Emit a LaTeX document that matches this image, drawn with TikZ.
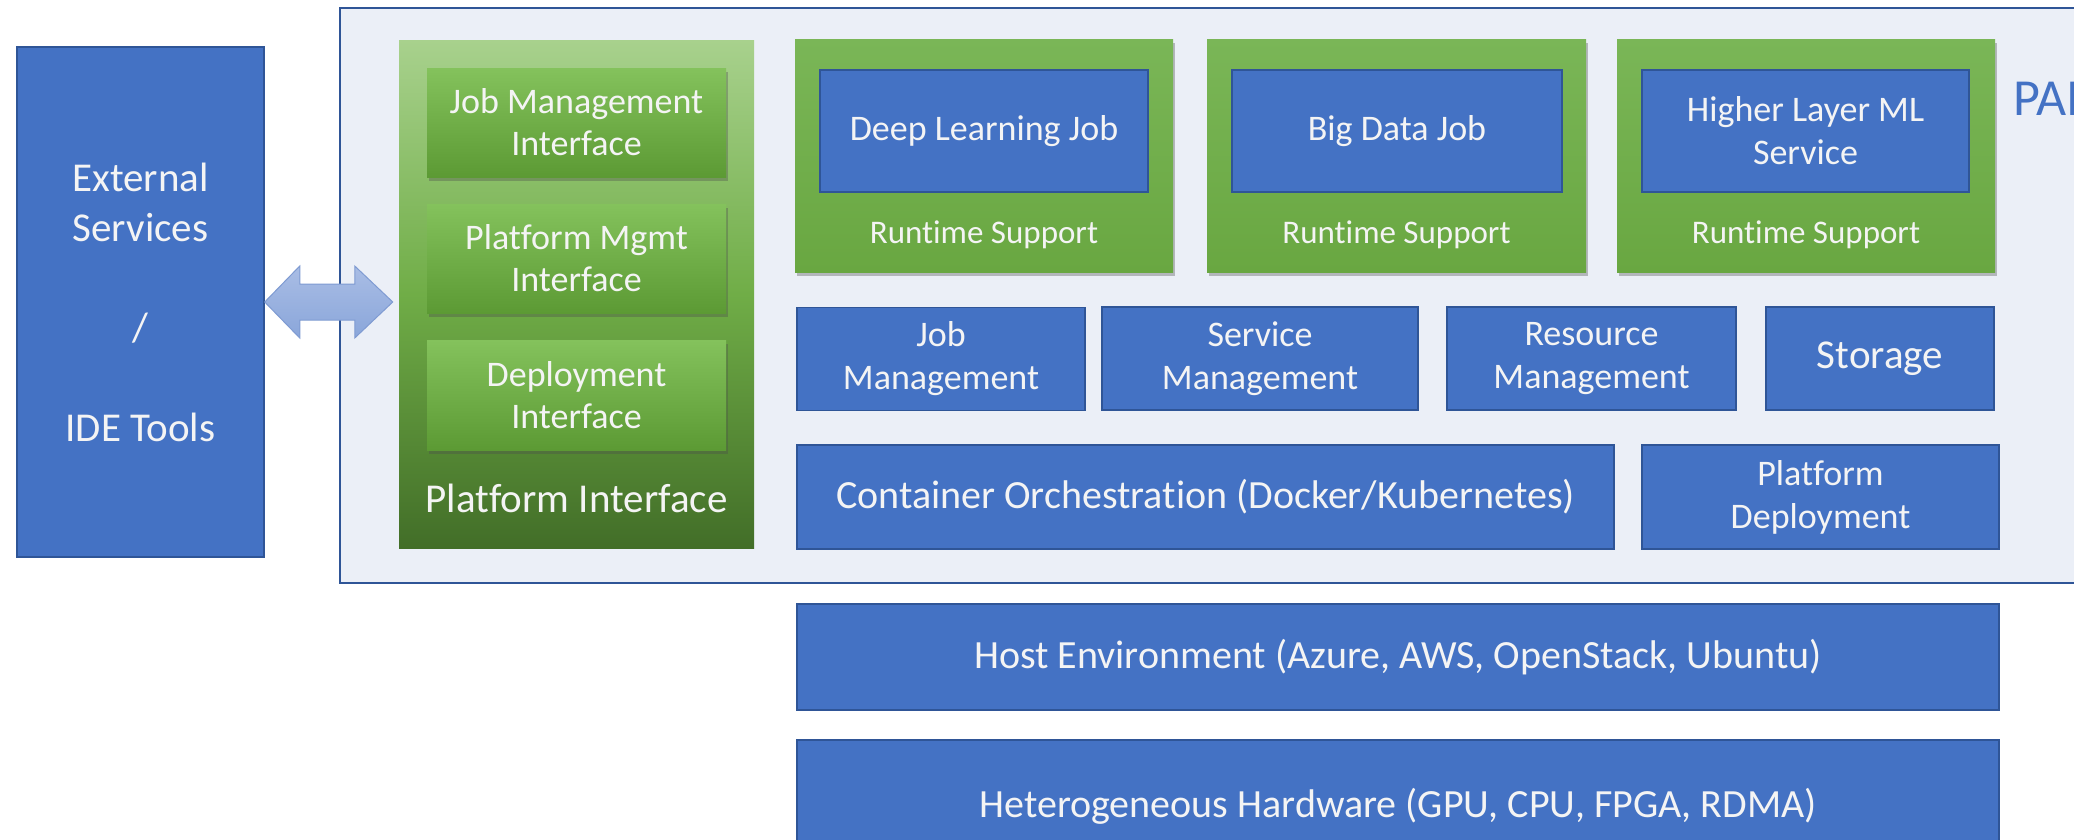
\documentclass[tikz,border=0pt]{standalone}
\usepackage{fontspec}
\setmainfont{Carlito}[Ligatures=NoCommon]
\usetikzlibrary{shadows,calc}
\definecolor{bblue}{HTML}{4472C4}
\definecolor{bedge}{HTML}{2F5597}
\definecolor{paibg}{HTML}{EBEFF7}
\definecolor{paiedge}{HTML}{2F5597}
\definecolor{gtop}{HTML}{7AB657}
\definecolor{gbot}{HTML}{69A741}
\definecolor{itop}{HTML}{84C25C}
\definecolor{ibot}{HTML}{5C9A34}
\definecolor{ptop}{HTML}{A8D18D}
\definecolor{pmid}{HTML}{70AD47}
\definecolor{pbot}{HTML}{426E28}
\definecolor{atop}{HTML}{A9BDE5}
\definecolor{abot}{HTML}{8AA6DA}
\definecolor{aedge}{HTML}{7F9BD2}
\definecolor{wtext}{HTML}{F4F4F4}
\begin{document}
\begin{tikzpicture}[x=1pt,y=-1pt,
  bluebox/.style={fill=bblue,draw=bedge,line width=1.5pt,text=wtext,align=center,inner sep=0pt,font=\fontsize{36}{43}\selectfont},
  bigtext/.style={font=\fontsize{40}{48}\selectfont},
  jobbox/.style={top color=gtop,bottom color=gbot,draw=none,inner sep=0pt,
     drop shadow={shadow xshift=1.5pt,shadow yshift=-4pt,opacity=0.35,fill=black!70}},
  ifbox/.style={top color=itop,bottom color=ibot,draw=none,inner sep=0pt,text=wtext,align=center,
     font=\fontsize{36}{42}\selectfont,
     drop shadow={shadow xshift=1.5pt,shadow yshift=-4pt,opacity=0.35,fill=black!70}},
  rtlabel/.style={text=wtext,font=\fontsize{33}{40}\selectfont,inner sep=0pt},
  arrowshape/.style={top color=atop,bottom color=abot,draw=aedge,line width=1pt,line join=miter}
]
\useasboundingbox (0,0) rectangle (2074,839);
\clip (0,0) rectangle (2074,839);
\fill[white] (0,0) rectangle (2074,839);

% PAI container
\node[fill=paibg,draw=paiedge,line width=2pt,minimum width=1760pt,minimum height=575pt,inner sep=0pt] (pai) at (1220,295.5) {};
\node[anchor=west,text=bblue,font=\fontsize{52}{60}\selectfont,inner sep=0pt] (pailabel) at (2013,99) {PAI};

% External services
\node[bluebox,minimum width=247pt,minimum height=510pt,font=\fontsize{41}{50}\selectfont] (ext) at (140.5,302)
  {External\\Services\\[50pt]/\\[50pt]IDE Tools};

% Platform interface panel
\node[top color=ptop,bottom color=pbot,middle color=pmid,minimum width=355pt,minimum height=508pt,inner sep=0pt] (pi) at (576.5,294) {};
\node[ifbox,minimum width=299pt,minimum height=109pt] (jmi) at (576.5,122.5) {Job Management\\Interface};
\node[ifbox,minimum width=299pt,minimum height=109pt] (pmi) at (576.5,258.5) {Platform Mgmt\\Interface};
\node[ifbox,minimum width=299pt,minimum height=110pt] (dpi) at (576.5,395) {Deployment\\Interface};
\node[text=wtext,font=\fontsize{41}{48}\selectfont,inner sep=0pt] (pilabel) at (576.5,498) {Platform Interface};

% double arrow between external and platform interface
\path[arrowshape] (ext.east) -- ++(35,-36) -- ++(0,18) -- ++(55,0) -- ++(0,-18) -- ++(38,36)
  -- ++(-38,36) -- ++(0,-18) -- ++(-55,0) -- ++(0,18) -- cycle;

% Job boxes
\node[jobbox,minimum width=378pt,minimum height=233pt] (dl) at (984,155.5) {};
\node[bluebox,minimum width=328pt,minimum height=122pt] (dlj) at (984,131) {Deep Learning Job};
\node[rtlabel] (dlr) at (984,235) {Runtime Support};

\node[jobbox,minimum width=379pt,minimum height=233pt] (bd) at (1396.5,155.5) {};
\node[bluebox,minimum width=330pt,minimum height=122pt] (bdj) at (1397,131) {Big Data Job};
\node[rtlabel] (bdr) at (1396.5,235) {Runtime Support};

\node[jobbox,minimum width=378pt,minimum height=233pt] (hl) at (1806,155.5) {};
\node[bluebox,minimum width=327pt,minimum height=122pt] (hlj) at (1805.5,131) {Higher Layer ML\\Service};
\node[rtlabel] (hlr) at (1806,235) {Runtime Support};

% Management row
\node[bluebox,minimum width=288pt,minimum height=103pt] (jm) at (941,359) {Job\\Management};
\node[bluebox,minimum width=316pt,minimum height=103pt] (sm) at (1260,358.5) {Service\\Management};
\node[bluebox,minimum width=289pt,minimum height=103pt] (rm) at (1591.5,358.5) {Resource\\Management};
\node[bluebox,minimum width=228pt,minimum height=103pt,font=\fontsize{41}{48}\selectfont] (st) at (1880,358.5) {Storage};

% Orchestration row
\node[bluebox,bigtext,minimum width=817pt,minimum height=104pt] (co) at (1205.5,497) {Container Orchestration (Docker/Kubernetes)};
\node[bluebox,minimum width=357pt,minimum height=104pt] (pd) at (1820.5,497) {Platform\\Deployment};

% Host and hardware
\node[bluebox,bigtext,minimum width=1202pt,minimum height=106pt] (host) at (1398,657) {Host Environment (Azure, AWS, OpenStack, Ubuntu)};
\node[bluebox,bigtext,minimum width=1202pt,minimum height=132pt] (hw) at (1398,806) {Heterogeneous Hardware (GPU, CPU, FPGA, RDMA)};
\end{tikzpicture}
\end{document}
